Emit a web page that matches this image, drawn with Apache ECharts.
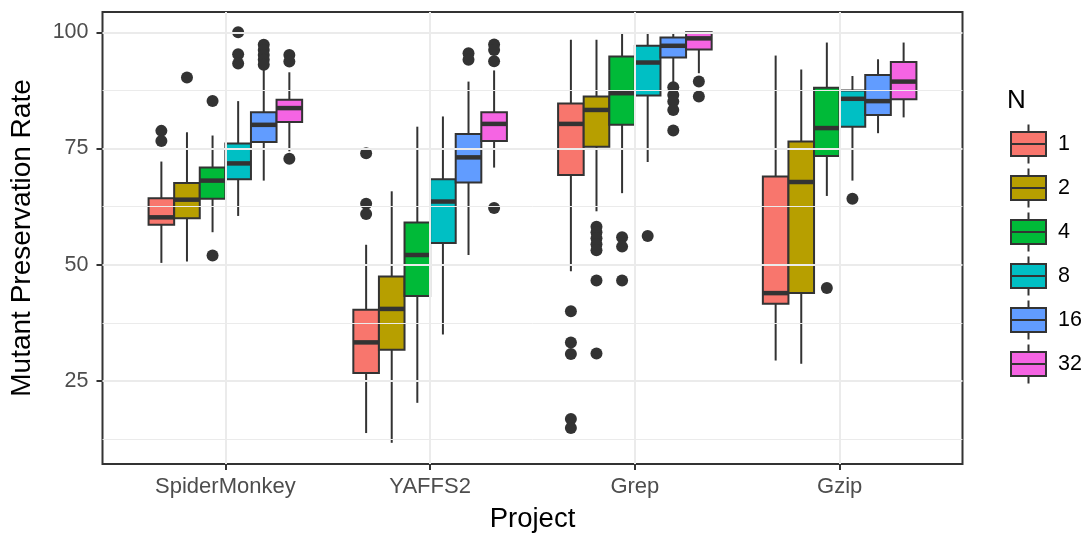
<!DOCTYPE html>
<html>
<head>
<meta charset="utf-8">
<script src="https://cdn.jsdelivr.net/npm/echarts@6/dist/echarts.min.js"></script>
<style>html,body{margin:0;padding:0;background:#fff;}#chart{width:1084px;height:539px;}</style>
</head>
<body>
<div id="chart"></div>
<script>
const projects = ['SpiderMonkey', 'YAFFS2', 'Grep', 'Gzip'];
const nLevels = ['1', '2', '4', '8', '16', '32'];
const colors = ['#F8766D', '#B79F00', '#00BA38', '#00BFC4', '#619CFF', '#F564E3'];
const yTicks = [25, 50, 75, 100];
const yMinorGrid = [12.5, 37.5, 62.5, 87.5];

// per project: [lower whisker, Q1, median, Q3, upper whisker]
const box_N1  = [[50.4, 58.6, 60.2, 64.3, 72.2], [13.8, 26.7, 33.3, 40.3, 54.3], [48.6, 69.3, 80.3, 84.7, 98.4], [29.4, 41.6, 43.9, 69.0, 95.0]];
const box_N2  = [[50.7, 60.0, 64.0, 67.6, 78.5], [11.7, 31.7, 40.5, 47.5, 65.8], [61.5, 75.4, 83.3, 86.2, 98.4], [28.7, 43.9, 67.8, 76.5, 92.0]];
const box_N4  = [[57.0, 64.2, 68.1, 70.9, 77.8], [20.3, 43.3, 52.1, 59.1, 79.7], [65.4, 80.1, 86.9, 94.8, 100], [64.8, 73.4, 79.4, 88.1, 97.8]];
const box_N8  = [[60.5, 68.4, 71.8, 76.1, 85.2], [35.0, 54.7, 63.6, 68.4, 81.9], [72.1, 86.4, 93.5, 97.1, 100], [68.1, 79.7, 85.7, 87.5, 90.6]];
const box_N16 = [[68.1, 76.4, 80.1, 82.8, 91.9], [52.1, 67.7, 73.1, 78.1, 89.4], [89.0, 94.6, 97.1, 98.9, 100], [78.3, 82.2, 85.2, 90.8, 94.2]];
const box_N32 = [[74.4, 80.7, 83.7, 85.5, 91.4], [70.9, 76.6, 80.3, 82.8, 91.8], [91.2, 96.3, 98.7, 100, 100], [81.7, 85.6, 89.4, 93.6, 97.8]];

// outliers: [project index, value]
const out_N1  = [[0, 78.8], [0, 76.6], [1, 74.0], [1, 63.1], [1, 60.9], [2, 40.0], [2, 33.3], [2, 30.8], [2, 16.8], [2, 14.9]];
const out_N2  = [[0, 90.3], [2, 58.2], [2, 57.0], [2, 55.7], [2, 54.4], [2, 53.1], [2, 46.6], [2, 30.9]];
const out_N4  = [[0, 85.2], [0, 52.0], [2, 55.9], [2, 53.9], [2, 46.6], [3, 45.0]];
const out_N8  = [[0, 100], [0, 95.3], [0, 93.3], [2, 56.2], [3, 64.2]];
const out_N16 = [[0, 97.3], [0, 96.2], [0, 95.1], [0, 94.1], [0, 93.0], [1, 95.5], [1, 94.1], [2, 88.2], [2, 86.5], [2, 85.1], [2, 83.3], [2, 78.9]];
const out_N32 = [[0, 95.1], [0, 93.7], [0, 72.8], [1, 97.4], [1, 96.2], [1, 93.8], [1, 62.2], [2, 89.4], [2, 86.2]];

const boxSets = [box_N1, box_N2, box_N4, box_N8, box_N16, box_N32];
const outSets = [out_N1, out_N2, out_N4, out_N8, out_N16, out_N32];

const dodgeWidth = 0.75;
const boxW = dodgeWidth / nLevels.length;
function offsetOf(i) { return -dodgeWidth / 2 + boxW * (i + 0.5); }

const EDGE = '#333333';
const FONT = 'Liberation Sans, Arial, sans-serif';

function makeRender(i) {
  return function (params, api) {
    const x = api.value(0) + offsetOf(i);
    const pLow = api.coord([x, api.value(1)]);
    const pQ1 = api.coord([x, api.value(2)]);
    const pMed = api.coord([x, api.value(3)]);
    const pQ3 = api.coord([x, api.value(4)]);
    const pHigh = api.coord([x, api.value(5)]);
    const hw = api.size([boxW, 0])[0] / 2;
    const cx = pMed[0];
    return {
      type: 'group',
      children: [
        { type: 'line', shape: { x1: cx, y1: pHigh[1], x2: cx, y2: pQ3[1] }, style: { stroke: EDGE, lineWidth: 2 } },
        { type: 'line', shape: { x1: cx, y1: pQ1[1], x2: cx, y2: pLow[1] }, style: { stroke: EDGE, lineWidth: 2 } },
        { type: 'rect', shape: { x: cx - hw, y: pQ3[1], width: hw * 2, height: pQ1[1] - pQ3[1] }, style: { fill: colors[i], stroke: EDGE, lineWidth: 2 } },
        { type: 'line', shape: { x1: cx - hw, y1: pMed[1], x2: cx + hw, y2: pMed[1] }, style: { stroke: EDGE, lineWidth: 4.5 } }
      ]
    };
  };
}

const series = [];
// grid lines
series.push({
  type: 'scatter', name: '_grid', data: [], silent: true, z: 0,
  markLine: {
    silent: true, symbol: 'none', label: { show: false }, animation: false,
    data: [
      ...yMinorGrid.map(v => ({ yAxis: v, lineStyle: { color: '#EBEBEB', width: 1, type: 'solid' } })),
      ...yTicks.map(v => ({ yAxis: v, lineStyle: { color: '#EBEBEB', width: 2, type: 'solid' } })),
      ...projects.map((p, k) => ({ xAxis: k + 1, lineStyle: { color: '#EBEBEB', width: 2, type: 'solid' } }))
    ]
  }
});
nLevels.forEach((n, i) => {
  series.push({
    type: 'custom', name: n, z: 2,
    itemStyle: { color: colors[i], borderColor: EDGE, borderWidth: 2 },
    renderItem: makeRender(i),
    encode: { x: 0, y: [1, 2, 3, 4, 5] },
    data: boxSets[i].map((b, k) => [k + 1, ...b])
  });
  series.push({
    type: 'scatter', name: n, z: 3, symbolSize: 12,
    itemStyle: { color: EDGE, opacity: 1 },
    data: outSets[i].map(o => [o[0] + 1 + offsetOf(i), o[1]])
  });
});

const legendIcon = 'path://M0,7.5 L35,7.5 L35,31.5 L0,31.5 Z M0,19.5 L35,19.5 M17.5,0 L17.5,7.5 M17.5,31.5 L17.5,39';

const chart = echarts.init(document.getElementById('chart'), null, { renderer: 'canvas' });
chart.setOption({
  animation: false,
  backgroundColor: '#fff',
  textStyle: { fontFamily: FONT },
  grid: { left: 102.5, right: 121.5, top: 12, bottom: 75, show: true, borderColor: EDGE, borderWidth: 2, backgroundColor: 'transparent' },
  xAxis: {
    type: 'value', min: 0.4, max: 4.6,
    name: 'Project', nameLocation: 'middle', nameGap: 41,
    nameTextStyle: { fontSize: 27.5, color: '#000' },
    axisLine: { show: false },
    splitLine: { show: false },
    axisTick: { show: true, customValues: [1, 2, 3, 4], length: 6, lineStyle: { color: EDGE, width: 2 } },
    axisLabel: { customValues: [1, 2, 3, 4], formatter: v => projects[Math.round(v) - 1] || '', fontSize: 22, color: '#4D4D4D', margin: 12 }
  },
  yAxis: {
    type: 'value', min: 7.14, max: 104.37,
    name: 'Mutant Preservation Rate', nameLocation: 'middle', nameGap: 66, nameRotate: 90,
    nameTextStyle: { fontSize: 28, color: '#000' },
    axisLine: { show: false },
    splitLine: { show: false },
    axisTick: { show: true, customValues: yTicks, length: 6, lineStyle: { color: EDGE, width: 2 } },
    axisLabel: { customValues: yTicks, fontSize: 21.5, color: '#4D4D4D', margin: 14 }
  },
  legend: {
    data: nLevels.map(n => ({ name: n, icon: legendIcon })),
    orient: 'vertical', left: 1010, top: 123.5, padding: 0,
    itemWidth: 35, itemHeight: 39, itemGap: 3,
    itemStyle: { borderColor: EDGE, borderWidth: 2 },
    textStyle: { fontSize: 21.5, color: '#000', padding: [0, 0, 0, 7] },
    selectedMode: false
  },
  graphic: [
    { type: 'text', left: 1007, top: 88, style: { text: 'N', fontSize: 26, fill: '#000', fontFamily: FONT } }
  ],
  series: series
});
</script>
</body>
</html>
